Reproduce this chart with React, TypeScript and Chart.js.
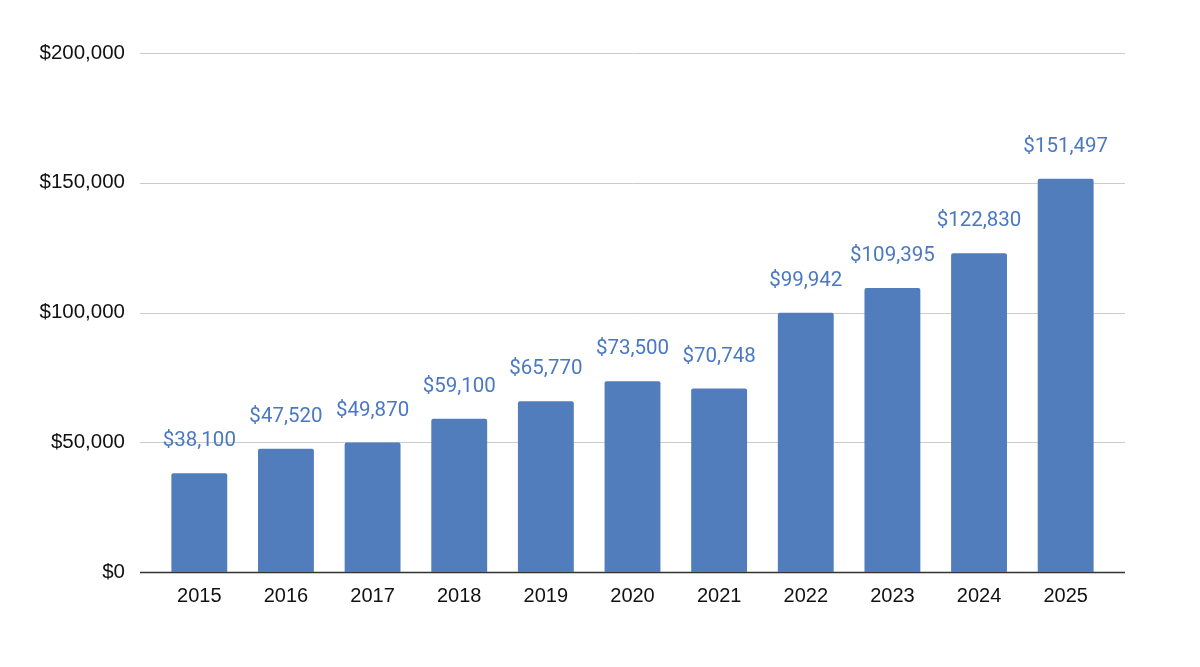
import { useRef, useEffect } from "react"
import { Chart, registerables, type Plugin } from "chart.js"

Chart.register(...registerables)

const years = ["2015", "2016", "2017", "2018", "2019", "2020", "2021", "2022", "2023", "2024", "2025"]
const salaries = [38100, 47520, 49870, 59100, 65770, 73500, 70748, 99942, 109395, 122830, 151497]
const yTicks = [0, 50000, 100000, 150000, 200000]

const money = (v: number) => "$" + v.toLocaleString("en-US")

// gridlines run a bit past the bars on both sides
const wideGrid: Plugin<"bar"> = {
  id: "wideGrid",
  beforeDatasetsDraw(chart) {
    const { ctx, chartArea } = chart
    const y = chart.scales.y
    ctx.save()
    yTicks.forEach((v) => {
      const py = Math.round(y.getPixelForValue(v)) + 0.5
      ctx.beginPath()
      ctx.strokeStyle = v === 0 ? "#333333" : "#cccccc"
      ctx.lineWidth = v === 0 ? 1.5 : 1
      ctx.moveTo(chartArea.left - 16, py)
      ctx.lineTo(chartArea.right + 16, py)
      ctx.stroke()
    })
    ctx.restore()
  },
}

// labels above each bar
const barLabels: Plugin<"bar"> = {
  id: "barLabels",
  afterDatasetsDraw(chart) {
    const ctx = chart.ctx
    const meta = chart.getDatasetMeta(0)
    ctx.save()
    ctx.font = "20.5px Roboto"
    ctx.fillStyle = "#4a78c2"
    ctx.textAlign = "center"
    ctx.textBaseline = "middle"
    meta.data.forEach((bar, i) => {
      ctx.fillText(money(salaries[i]), bar.x, bar.y - 32)
    })
    ctx.restore()
  },
}

export default function App() {
  const canvasRef = useRef<HTMLCanvasElement>(null)
  const chartRef = useRef<Chart | null>(null)

  useEffect(() => {
    if (!canvasRef.current) return
    if (chartRef.current) chartRef.current.destroy()

    chartRef.current = new Chart(canvasRef.current, {
      type: "bar",
      data: {
        labels: years,
        datasets: [
          {
            data: salaries,
            backgroundColor: "#527dbd",
            borderRadius: 2,
            borderSkipped: "bottom",
            categoryPercentage: 0.645,
            barPercentage: 1,
          },
        ],
      },
      options: {
        responsive: true,
        maintainAspectRatio: false,
        animation: false,
        layout: { padding: { top: 53, right: 91, bottom: 55, left: 0 } },
        plugins: {
          legend: { display: false },
          tooltip: { enabled: false },
        },
        scales: {
          x: {
            grid: { display: false, drawTicks: false },
            border: { display: false },
            ticks: { color: "#111", font: { family: "Liberation Sans", size: 20 }, padding: 12 },
            afterFit: (scale) => {
              scale.height = 40
            },
          },
          y: {
            min: 0,
            max: 200000,
            afterBuildTicks: (scale) => {
              scale.ticks = yTicks.map((v) => ({ value: v }))
            },
            grid: { display: false, drawTicks: false },
            border: { display: false },
            ticks: {
              color: "#111",
              font: { family: "Liberation Sans", size: 20.5 },
              padding: 31,
              callback: (v) => money(Number(v)),
            },
            afterFit: (scale) => {
              scale.width = 156
            },
          },
        },
      },
      plugins: [wideGrid, barLabels],
    })

    return () => {
      if (chartRef.current) chartRef.current.destroy()
    }
  }, [])

  return (
    <div style={{ position: "fixed", left: 0, top: 0, width: 1200, height: 667, background: "#fff" }}>
      <canvas ref={canvasRef}></canvas>
    </div>
  )
}
